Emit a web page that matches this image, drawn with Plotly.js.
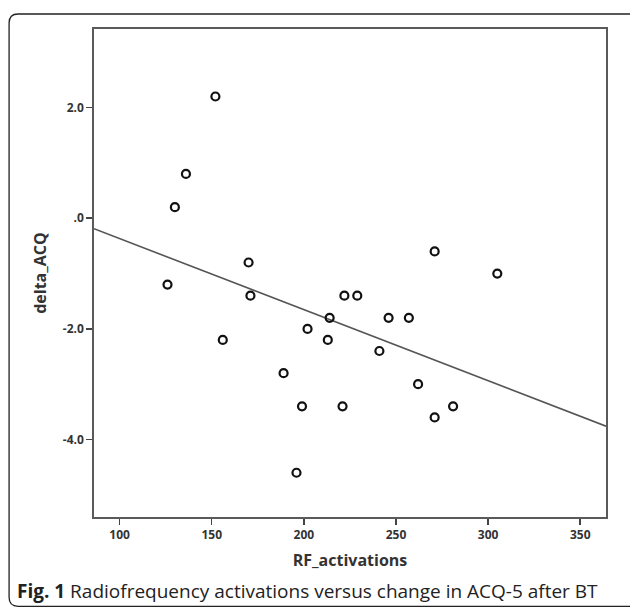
<!DOCTYPE html>
<html>
<head>
<meta charset="utf-8">
<script src="https://cdn.plot.ly/plotly-3.0.1.min.js"></script>
<style>
html,body{margin:0;padding:0;background:#fff;}
#chart{width:630px;height:611px;}
</style>
</head>
<body>
<div id="chart"></div>
<script>
// Data
const rfActivations = [152, 136, 130, 170, 126, 171, 222, 229, 214, 202, 213, 156, 241, 189, 199, 221, 196, 271, 305, 246, 257, 262, 281, 271];
const deltaACQ      = [2.2, 0.8, 0.2, -0.8, -1.2, -1.4, -1.4, -1.4, -1.8, -2.0, -2.2, -2.2, -2.4, -2.8, -3.4, -3.4, -4.6, -0.6, -1.0, -1.8, -1.8, -3.0, -3.4, -3.6];
const xTickVals = [100, 150, 200, 250, 300, 350];
const xTickText = ['100', '150', '200', '250', '300', '350'];
const yTickVals = [2, 0, -2, -4];
const yTickText = ['2.0', '.0', '-2.0', '-4.0'];
const xRange = [86.1, 364];
const yRange = [-5.4, 3.42];

// Least-squares fit line across the full x range
const n = rfActivations.length;
const mx = rfActivations.reduce((a, b) => a + b, 0) / n;
const my = deltaACQ.reduce((a, b) => a + b, 0) / n;
let sxy = 0, sxx = 0;
for (let i = 0; i < n; i++) {
  sxy += (rfActivations[i] - mx) * (deltaACQ[i] - my);
  sxx += (rfActivations[i] - mx) ** 2;
}
const slope = sxy / sxx;
const intercept = my - slope * mx;
const fitX = xRange.slice();
const fitY = fitX.map(x => intercept + slope * x);

const traces = [
  {
    x: fitX, y: fitY, type: 'scatter', mode: 'lines',
    line: {color: '#555555', width: 1.6},
    hoverinfo: 'skip', showlegend: false
  },
  {
    x: rfActivations, y: deltaACQ, type: 'scatter', mode: 'markers',
    marker: {symbol: 'circle-open', size: 8, color: '#111111', line: {width: 2.2, color: '#111111'}},
    showlegend: false
  }
];

// pixel helpers for paper-referenced decorations
const W = 630, H = 611;
const mL = 94, mR = 23.5, mT = 29, mB = 94.3;
const pw = W - mL - mR, ph = H - mT - mB;
const px = v => (v - mL) / pw;
const py = v => (H - mB - v) / ph;

// rounded outer box (extends past the right edge)
const bl = 9, bt = 14, br = 650, bb = 606, r = 9;
const boxPath = `M ${px(bl)},${py(bt + r)} Q ${px(bl)},${py(bt)} ${px(bl + r)},${py(bt)} L ${px(br)},${py(bt)} ` +
  `M ${px(bl)},${py(bt + r)} L ${px(bl)},${py(bb - r)} Q ${px(bl)},${py(bb)} ${px(bl + r)},${py(bb)} L ${px(br)},${py(bb)}`;

const axisCommon = {
  showgrid: false, zeroline: false, showline: true, mirror: true,
  linecolor: '#5a5a5a', linewidth: 1.8,
  ticks: 'outside', ticklen: 6, tickwidth: 1.5, tickcolor: '#444444',
  tickfont: {family: 'Open Sans, Arial, sans-serif', size: 12, color: '#333333', weight: 'bold'},
  fixedrange: true
};

const layout = {
  width: W, height: H,
  margin: {l: mL, r: mR, t: mT, b: mB, pad: 0},
  paper_bgcolor: '#ffffff', plot_bgcolor: '#ffffff',
  xaxis: Object.assign({}, axisCommon, {
    range: xRange, tickmode: 'array', tickvals: xTickVals, ticktext: xTickText,
    title: {text: 'RF_activations', standoff: 12,
      font: {family: 'Open Sans, Arial, sans-serif', size: 16, color: '#333333', weight: 'bold'}}
  }),
  yaxis: Object.assign({}, axisCommon, {
    range: yRange, tickmode: 'array', tickvals: yTickVals, ticktext: yTickText,
    title: {text: 'delta_ACQ', standoff: 12,
      font: {family: 'Open Sans, Arial, sans-serif', size: 16, color: '#333333', weight: 'bold'}}
  }),
  shapes: [
    {type: 'path', xref: 'paper', yref: 'paper', path: boxPath, line: {color: '#222222', width: 1.3}, layer: 'below'}
  ],
  annotations: [
    {xref: 'paper', yref: 'paper', x: px(15), y: py(591), xanchor: 'left', yanchor: 'middle', showarrow: false,
     text: '<b>Fig. 1</b> Radiofrequency activations versus change in ACQ-5 after BT',
     font: {family: 'Open Sans, Arial, sans-serif', size: 19, color: '#222222'}}
  ]
};

Plotly.newPlot('chart', traces, layout, {displayModeBar: false, staticPlot: true});
</script>
</body>
</html>
